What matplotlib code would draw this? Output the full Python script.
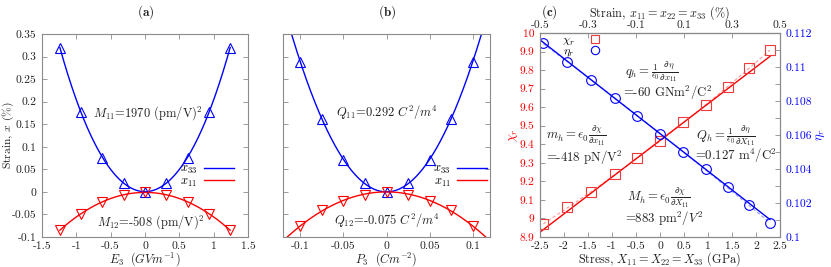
import numpy as np
import matplotlib
matplotlib.use('Agg')
import matplotlib.pyplot as plt
from matplotlib.ticker import FuncFormatter, MultipleLocator
from matplotlib.lines import Line2D

plt.rcParams.update({
    'font.family': 'serif',
    'font.serif': ['cmr10'],
    'mathtext.fontset': 'cm',
    'axes.unicode_minus': False,
    'axes.formatter.use_mathtext': True,
    'font.size': 8.3,
})

# ---------------- data ----------------
# panel (a)
E3 = np.array([-1.24, -0.93, -0.62, -0.31, 0.0, 0.31, 0.62, 0.93, 1.24])
x33_a = np.array([0.320, 0.176, 0.076, 0.020, 0.0, 0.020, 0.076, 0.176, 0.320])
x11_a = np.array([-0.085, -0.048, -0.022, -0.007, 0.0, -0.007, -0.022, -0.048, -0.085])
# panel (b)
P3 = np.array([-0.1, -0.075, -0.05, -0.025, 0.0, 0.025, 0.05, 0.075, 0.1])
x33_b = np.array([0.289, 0.162, 0.071, 0.019, 0.0, 0.019, 0.071, 0.162, 0.289])
x11_b = np.array([-0.076, -0.041, -0.020, -0.006, 0.0, -0.006, -0.020, -0.041, -0.076])
# panel (c)
stress = np.array([-2.43, -1.93, -1.44, -0.94, -0.47, 0.01, 0.47, 0.96, 1.41, 1.85, 2.29])
chi_r = np.array([8.968, 9.060, 9.144, 9.238, 9.324, 9.419, 9.518, 9.610, 9.707, 9.810, 9.910])
eta_r = np.array([0.11139, 0.11031, 0.10924, 0.10816, 0.10712, 0.10606,
                  0.10502, 0.10398, 0.10292, 0.10186, 0.10081])

labels_a = [r'$M_{11}$=1970 (pm/V)$^2$', r'$M_{12}$=-508 (pm/V)$^2$']
labels_b = [r'$Q_{11}$=0.292 $C^2/m^4$', r'$Q_{12}$=-0.075 $C^2/m^4$']

BLUE = '#0000ff'
RED = '#ff0000'
SQRED = '#ee3c3c'
GREY = '#8a8a8a'
TXT = '#222222'

W, H = 831, 267
fig = plt.figure(figsize=(W / 100, H / 100), dpi=100)

def fa(l, b, r, t):
    return [l / W, 1 - b / H, (r - l) / W, (b - t) / H]

axa = fig.add_axes(fa(42, 237, 248, 34))
axb = fig.add_axes(fa(283, 237, 490, 34))
axc = fig.add_axes(fa(540, 237, 780, 33))

gfmt = FuncFormatter(lambda v, p: '%g' % round(v, 6))

def style(ax, top=True, right=True):
    for s in ax.spines.values():
        s.set_color(GREY)
        s.set_linewidth(0.8)
    ax.tick_params(which='both', direction='in', length=3.5, width=0.6, color=GREY,
                   labelcolor=TXT, top=top, right=right, pad=3)
    ax.tick_params(axis='y', pad=4)

mk = dict(ls='none', mfc='none', ms=7, mew=0.8)
LFS = 8.8    # axis labels
AFS = 9.0    # annotations
GFS = 9.0    # legends

# ---------------- (a) ----------------
style(axa)
c33 = np.polyfit(E3, x33_a, 4)
c11 = np.polyfit(E3, x11_a, 4)
e = np.linspace(E3.min(), E3.max(), 300)
axa.plot(e, np.polyval(c33, e), color=BLUE, lw=1.0)
axa.plot(e, np.polyval(c11, e), color=RED, lw=1.0)
axa.plot(E3, x33_a, marker='^', mec=BLUE, **mk)
axa.plot(E3, x11_a, marker='v', mec=RED, **mk)
axa.set_xlim(-1.5, 1.5)
axa.set_ylim(-0.1, 0.35)
axa.set_xticks(np.arange(-1.5, 1.51, 0.5))
axa.set_yticks(np.arange(-0.1, 0.351, 0.05))
axa.xaxis.set_major_formatter(gfmt)
axa.yaxis.set_major_formatter(gfmt)
axa.set_xlabel(r'$E_3\ \ (GVm^{-1})$', labelpad=0, color=TXT, fontsize=LFS)
axa.set_ylabel('Strain, $x$ (%)', color=TXT, fontsize=8.3)
axa.yaxis.set_label_coords(-0.128, 0.5)
axa.text(0.04, 0.175, labels_a[0], ha='center', va='center', color=TXT, fontsize=AFS)
axa.text(0.09, -0.066, labels_a[1], ha='center', va='center', color=TXT, fontsize=AFS)
hl = [Line2D([], [], color=BLUE, lw=1.0), Line2D([], [], color=RED, lw=1.0)]
axa.legend(hl, [r'$x_{33}$', r'$x_{11}$'], loc='upper right', bbox_to_anchor=(0.93, 0.365),
           frameon=False, markerfirst=False, handlelength=2.4, labelspacing=-0.05,
           borderpad=0, handletextpad=0.5, fontsize=GFS, borderaxespad=0)
fig.text(146 / W, 1 - 12 / H, r'$\mathbf{(a)}$', ha='center', va='center', fontsize=9.5, color=TXT)

# ---------------- (b) ----------------
style(axb)
k33 = np.sum(P3 ** 2 * x33_b) / np.sum(P3 ** 4)
k11 = np.sum(P3 ** 2 * x11_b) / np.sum(P3 ** 4)
p = np.linspace(-0.12, 0.12, 400)
axb.plot(p, k33 * p ** 2, color=BLUE, lw=1.0)
axb.plot(p, k11 * p ** 2, color=RED, lw=1.0)
axb.plot(P3, x33_b, marker='^', mec=BLUE, **mk)
axb.plot(P3, x11_b, marker='v', mec=RED, **mk)
axb.set_xlim(-0.12, 0.12)
axb.set_ylim(-0.1, 0.35)
axb.set_xticks(np.arange(-0.1, 0.101, 0.05))
axb.set_yticks(np.arange(-0.1, 0.351, 0.05))
axb.xaxis.set_major_formatter(gfmt)
axb.set_yticklabels([])
axb.set_xlabel(r'$P_3\ \ (Cm^{-2})$', labelpad=0, color=TXT, fontsize=LFS)
axb.text(0.0, 0.175, labels_b[0], ha='center', va='center', color=TXT, fontsize=AFS)
axb.text(0.0, -0.065, labels_b[1], ha='center', va='center', color=TXT, fontsize=AFS)
axb.legend(hl, [r'$x_{33}$', r'$x_{11}$'], loc='upper right', bbox_to_anchor=(0.985, 0.365),
           frameon=False, markerfirst=False, handlelength=2.4, labelspacing=-0.05,
           borderpad=0, handletextpad=0.5, fontsize=GFS, borderaxespad=0)
fig.text(387 / W, 1 - 12 / H, r'$\mathbf{(b)}$', ha='center', va='center', fontsize=9.5, color=TXT)

# ---------------- (c) ----------------
style(axc, top=False, right=False)
ax2 = axc.twinx()
style(ax2, top=False, right=True)
ax2.tick_params(left=False)
axc.set_xlim(-2.5, 2.5)
axc.set_ylim(8.9, 10.0)
ax2.set_ylim(0.1, 0.112)
axc.set_xticks(np.arange(-2.5, 2.51, 0.5))
axc.set_yticks(np.arange(8.9, 10.001, 0.1))
axc.xaxis.set_major_formatter(gfmt)
axc.yaxis.set_major_formatter(gfmt)
axc.tick_params(axis='y', labelcolor=RED)
ax2.yaxis.set_major_locator(MultipleLocator(0.002))
ax2.yaxis.set_minor_locator(MultipleLocator(0.001))
ax2.yaxis.set_major_formatter(gfmt)
ax2.tick_params(axis='y', which='both', labelcolor=BLUE, length=3.5)

# fits
cen = np.abs(stress) <= 1.0
lc = np.polyfit(stress[cen], chi_r[cen], 1)
le = np.polyfit(stress[cen], eta_r[cen], 1)
qc = np.polyfit(stress, chi_r, 2)
qe = np.polyfit(stress, eta_r, 2)
xs = np.linspace(-2.5, stress.max(), 200)
xd = np.linspace(stress.min(), stress.max(), 200)
axc.plot(xd, np.polyval(qc, xd), color='#ff9a9a', lw=0.8, dashes=(3, 2))
axc.plot(xs, np.polyval(lc, xs), color=RED, lw=1.0)
axc.plot(stress, chi_r, marker='s', mec=SQRED, **mk)
ax2.plot(xd, np.polyval(qe, xd), color='#9a9aff', lw=0.8, dashes=(3, 2))
ax2.plot(xs, np.polyval(le, xs), color=BLUE, lw=1.0)
ax2.plot(stress, eta_r, marker='o', mec=BLUE, **mk)

sec = axc.secondary_xaxis('top', functions=(lambda X: X / 5.0, lambda s: s * 5.0))
sec.set_xticks(np.arange(-0.5, 0.501, 0.2))
sec.xaxis.set_major_formatter(gfmt)
sec.tick_params(direction='in', length=3.5, width=0.6, color=GREY, labelcolor=TXT, pad=2)
sec.spines['top'].set_color(GREY)
sec.set_xlabel(r'Strain, $x_{11} = x_{22} = x_{33}$ (%)', labelpad=3, color=TXT, fontsize=LFS)

axc.set_xlabel(r'Stress, $X_{11} = X_{22} = X_{33}$ (GPa)', labelpad=0, color=TXT, fontsize=LFS)
axc.set_ylabel(r'$\chi_r$', color=RED, fontsize=GFS)
axc.yaxis.set_label_coords(-0.085, 0.5)
ax2.set_ylabel(r'$\eta_r$', color=BLUE, labelpad=2, fontsize=GFS)

hc = [Line2D([], [], ls='none', marker='s', mfc='none', mec=SQRED, ms=6, mew=0.8),
      Line2D([], [], ls='none', marker='o', mfc='none', mec=BLUE, ms=6, mew=0.8)]
axc.legend(hc, [r'$\chi_r$', r'$\eta_r$'], loc='upper left', bbox_to_anchor=(0.08, 1.0),
           frameon=False, markerfirst=False, handlelength=1.0, labelspacing=-0.12,
           borderpad=0, handletextpad=1.2, fontsize=8.5, borderaxespad=0.2)

tk = dict(ha='left', va='center', color=TXT, fontsize=9.2)
axc.text(-0.73, 9.79, r'$q_h = \frac{1}{\epsilon_0}\frac{\partial\eta}{\partial x_{11}}$', **tk)
axc.text(-0.77, 9.675, r'=-60 GNm$^2$/C$^2$', **tk)
axc.text(-2.37, 9.445, r'$m_h = \epsilon_0\frac{\partial\chi}{\partial x_{11}}$', **tk)
axc.text(-2.37, 9.325, r'=-418 pN/V$^2$', **tk)
axc.text(0.74, 9.445, r'$Q_h = \frac{1}{\epsilon_0}\frac{\partial\eta}{\partial X_{11}}$', **tk)
axc.text(0.72, 9.335, r'=0.127 m$^4$/C$^2$', **tk)
axc.text(-0.69, 9.11, r'$M_h = \epsilon_0\frac{\partial\chi}{\partial X_{11}}$', **tk)
axc.text(-0.73, 8.995, r'=883 pm$^2$/$V^2$', **tk)
fig.text(541 / W, 1 - 12 / H, r'$\mathbf{(c)}$', ha='left', va='center', fontsize=9.5, color=TXT)

fig.savefig('out.png', dpi=100)
